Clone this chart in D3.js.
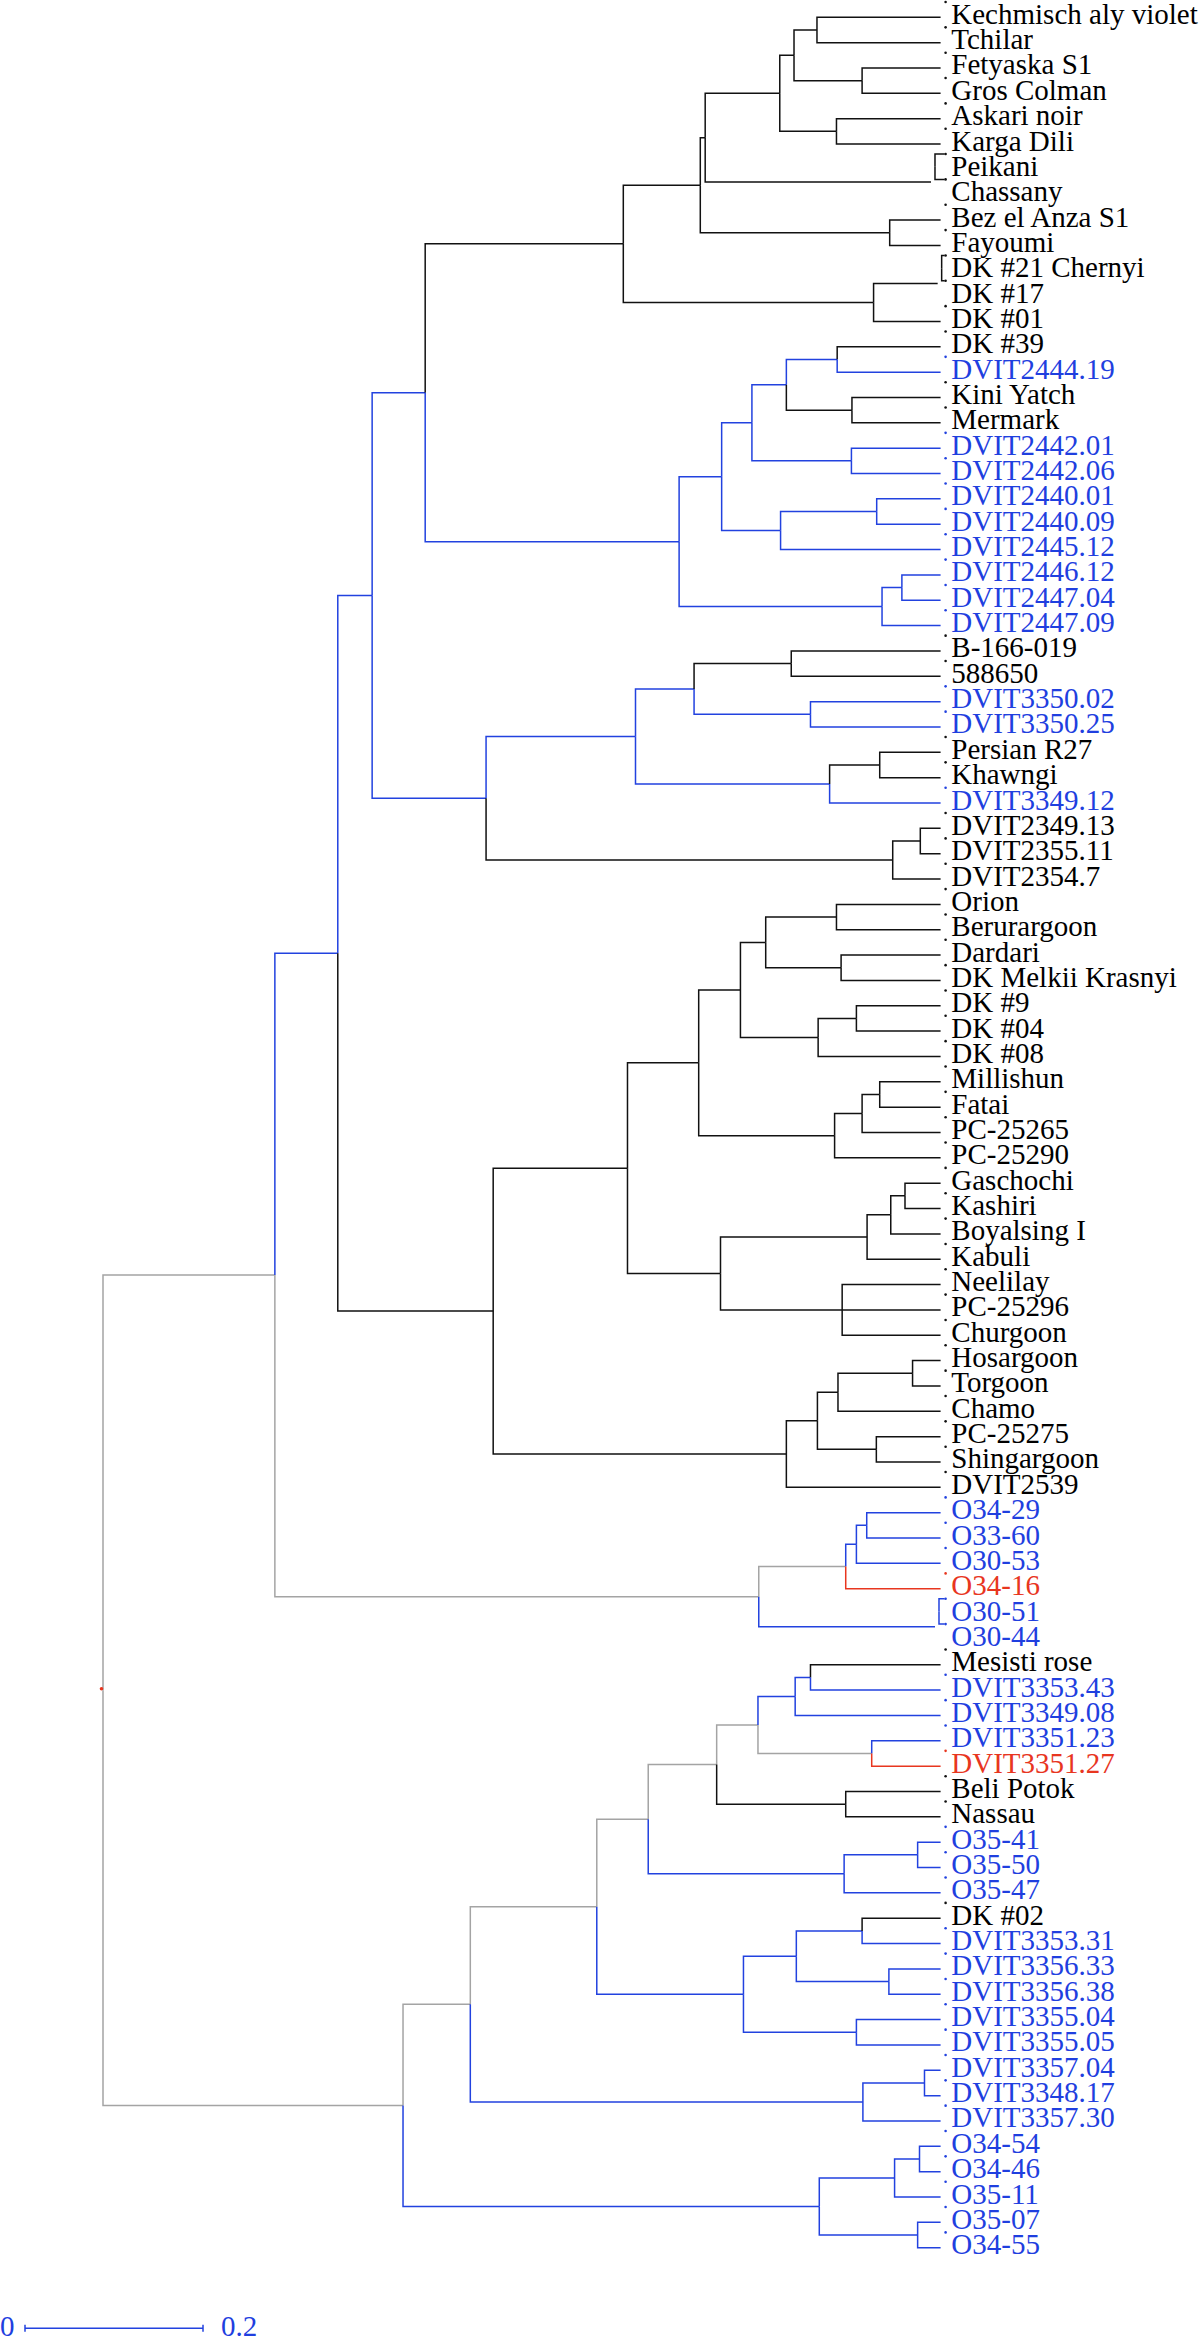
<!DOCTYPE html>
<html>
<head>
<meta charset="utf-8">
<script src="https://cdn.jsdelivr.net/npm/d3@7"></script>
<style>
  html, body { margin: 0; padding: 0; background: #ffffff; }
  svg { display: block; }
</style>
</head>
<body>
<div id="chart"></div>
<script>
// ---------------- DATA ----------------
const leafNames = [
  "Kechmisch aly violet","Tchilar","Fetyaska S1","Gros Colman","Askari noir","Karga Dili",
  "Peikani","Chassany","Bez el Anza S1","Fayoumi","DK #21 Chernyi","DK #17","DK #01",
  "DK #39","DVIT2444.19","Kini Yatch","Mermark","DVIT2442.01","DVIT2442.06","DVIT2440.01",
  "DVIT2440.09","DVIT2445.12","DVIT2446.12","DVIT2447.04","DVIT2447.09","B-166-019","588650",
  "DVIT3350.02","DVIT3350.25","Persian R27","Khawngi","DVIT3349.12","DVIT2349.13","DVIT2355.11",
  "DVIT2354.7","Orion","Berurargoon","Dardari","DK Melkii Krasnyi","DK #9","DK #04","DK #08",
  "Millishun","Fatai","PC-25265","PC-25290","Gaschochi","Kashiri","Boyalsing I","Kabuli",
  "Neelilay","PC-25296","Churgoon","Hosargoon","Torgoon","Chamo","PC-25275","Shingargoon",
  "DVIT2539","O34-29","O33-60","O30-53","O34-16","O30-51","O30-44","Mesisti rose",
  "DVIT3353.43","DVIT3349.08","DVIT3351.23","DVIT3351.27","Beli Potok","Nassau","O35-41",
  "O35-50","O35-47","DK #02","DVIT3353.31","DVIT3356.33","DVIT3356.38","DVIT3355.04",
  "DVIT3355.05","DVIT3357.04","DVIT3348.17","DVIT3357.30","O34-54","O34-46","O35-11",
  "O35-07","O34-55"
];
// leaf group: k = reference (black), b = blue group, r = red group
const leafGroups = [
  "k","k","k","k","k","k","k","k","k","k","k","k","k",
  "k","b","k","k","b","b","b","b","b","b","b","b","k","k",
  "b","b","k","k","b","k","k","k","k","k","k","k","k","k","k",
  "k","k","k","k","k","k","k","k","k","k","k","k","k","k","k","k",
  "k","b","b","b","r","b","b","k","b","b","b","r","k","k","b",
  "b","b","k","b","b","b","b","b","b","b","b","b","b","b","b","b"
];
// internal nodes: id, ordered children, height (distance from tips)
const nodeIds = ["KT","FG","KTFG","AK","KTFGAK","PC","U1","BF","U2","DK2117","DK3","C",
  "DK39","KM","G1a1","N2442","G1a","N2440","G1b","G1","N2446","G2","G","B1a",
  "NB166","N3350","H1","PK","H2","H","N23","I","B1b","B1",
  "OB","DD","OBDD","DK9","DK9b","E1a1","MF","MFP","MFPP","E1a","GK","GKB","GKBK","NPC",
  "E1b","E1","HT","HTC","PS","HTCPS","E2","E","B",
  "O2","D1a","D1","O30","D","A",
  "MD","K1","N3351","K","BN","F1a1a","O35","F1a1b","F1a1","DK02","N3356","N796","N3355",
  "F1a2","F1a","N3357","F1b","F1","O34","O34b","O35b","F2","F","root"];
const nodeChildren = [
  ["Kechmisch aly violet","Tchilar"],["Fetyaska S1","Gros Colman"],["KT","FG"],
  ["Askari noir","Karga Dili"],["KTFG","AK"],["Peikani","Chassany"],["KTFGAK","PC"],
  ["Bez el Anza S1","Fayoumi"],["U1","BF"],["DK #21 Chernyi","DK #17"],["DK2117","DK #01"],
  ["U2","DK3"],
  ["DK #39","DVIT2444.19"],["Kini Yatch","Mermark"],["DK39","KM"],["DVIT2442.01","DVIT2442.06"],
  ["G1a1","N2442"],["DVIT2440.01","DVIT2440.09"],["N2440","DVIT2445.12"],["G1a","G1b"],
  ["DVIT2446.12","DVIT2447.04"],["N2446","DVIT2447.09"],["G1","G2"],["C","G"],
  ["B-166-019","588650"],["DVIT3350.02","DVIT3350.25"],["NB166","N3350"],
  ["Persian R27","Khawngi"],["PK","DVIT3349.12"],["H1","H2"],
  ["DVIT2349.13","DVIT2355.11"],["N23","DVIT2354.7"],["H","I"],["B1a","B1b"],
  ["Orion","Berurargoon"],["Dardari","DK Melkii Krasnyi"],["OB","DD"],["DK #9","DK #04"],
  ["DK9","DK #08"],["OBDD","DK9b"],["Millishun","Fatai"],["MF","PC-25265"],["MFP","PC-25290"],
  ["E1a1","MFPP"],["Gaschochi","Kashiri"],["GK","Boyalsing I"],["GKB","Kabuli"],
  ["Neelilay","PC-25296","Churgoon"],["GKBK","NPC"],["E1a","E1b"],
  ["Hosargoon","Torgoon"],["HT","Chamo"],["PC-25275","Shingargoon"],["HTC","PS"],
  ["HTCPS","DVIT2539"],["E1","E2"],["B1","E"],
  ["O34-29","O33-60"],["O2","O30-53"],["D1a","O34-16"],["O30-51","O30-44"],["D1","O30"],["B","D"],
  ["Mesisti rose","DVIT3353.43"],["MD","DVIT3349.08"],["DVIT3351.23","DVIT3351.27"],["K1","N3351"],
  ["Beli Potok","Nassau"],["K","BN"],["O35-41","O35-50"],["O35","O35-47"],["F1a1a","F1a1b"],
  ["DK #02","DVIT3353.31"],["DVIT3356.33","DVIT3356.38"],["DK02","N3356"],
  ["DVIT3355.04","DVIT3355.05"],["N796","N3355"],["F1a1","F1a2"],
  ["DVIT3357.04","DVIT3348.17"],["N3357","DVIT3357.30"],["F1a","F1b"],
  ["O34-54","O34-46"],["O34","O35-11"],["O35-07","O34-55"],["O34b","O35b"],["F1","F2"],
  ["A","F"]
];
const nodeHeights = [
  0.1389,0.0882,0.1647,0.1170,0.1807,0.0108,0.2645,0.0572,0.2700,0.0033,0.0753,0.3565,
  0.1162,0.0996,0.1733,0.1002,0.2120,0.0718,0.1798,0.2460,0.0435,0.0658,0.2938,0.5791,
  0.1678,0.1462,0.2770,0.0684,0.1247,0.3428,0.0228,0.0538,0.5107,0.6387,
  0.1170,0.1118,0.1965,0.0946,0.1376,0.2249,0.0684,0.0882,0.1191,0.2718,0.0400,0.0560,0.0826,0.1106,
  0.2473,0.3518,0.0315,0.1153,0.0722,0.1384,0.1733,0.5027,0.6773,
  0.0830,0.0946,0.1066,0.0063,0.2043,0.7480,
  0.1462,0.1634,0.0774,0.2052,0.1066,0.2516,0.0258,0.1084,0.3285,0.0882,0.0581,0.1621,0.0946,
  0.2215,0.3863,0.0181,0.0873,0.5284,0.0237,0.0517,0.0258,0.1363,0.6040,0.9411
];
const scaleBarValue = 0.2;
const scaleBarLabels = ["0", "0.2"];

// ---------------- STYLE ----------------
const W = 1200, H = 2342;
const COLORS = { k: "#111111", b: "#2242df", r: "#e8361f", g: "#a4a4a4" };
const TEXT_COLORS = { k: "#000000", b: "#1f3fdf", r: "#e8361f" };
const FONT = "'Liberation Serif', 'Times New Roman', Times, serif";

// ---------------- BUILD TREE ----------------
const leafGroupOf = new Map(leafNames.map((n, i) => [n, leafGroups[i]]));
const nodeIndex = new Map(nodeIds.map((id, i) => [id, i]));
function build(name) {
  if (nodeIndex.has(name)) {
    const i = nodeIndex.get(name);
    return { name, height: nodeHeights[i], children: nodeChildren[i].map(build) };
  }
  return { name, height: 0, group: leafGroupOf.get(name) };
}
const root = d3.hierarchy(build("root"));

const x = d3.scaleLinear().domain([0.9411, 0]).range([103, 940.6]);
const y = d3.scalePoint().domain(leafNames).range([17.3, 2247.7]);

root.eachAfter(d => {
  d.px = x(d.data.height);
  if (!d.children) {
    d.py = y(d.data.name);
    d.cls = d.data.group;
  } else {
    d.py = (d.children[0].py + d.children[d.children.length - 1].py) / 2;
    const s = new Set(d.children.map(c => c.cls));
    if (s.size === 1) d.cls = [...s][0];
    else if (s.has("r") || s.has("g")) d.cls = "g";
    else d.cls = "b";
  }
});

const svg = d3.select("#chart").append("svg")
  .attr("width", W).attr("height", H)
  .attr("viewBox", `0 0 ${W} ${H}`);
svg.append("rect").attr("width", W).attr("height", H).attr("fill", "#fff");

const isTiny = d => d.children && d.data.height < 0.012;
const links = root.links();
const elbow = l => `M${l.source.px},${l.source.py}V${l.target.py}H${l.target.px}`;

// main links
svg.append("g")
  .attr("fill", "none").attr("stroke-width", 1.5)
  .selectAll("path")
  .data(links.filter(l => !isTiny(l.source)))
  .join("path")
  .attr("d", elbow)
  .attr("stroke", l => COLORS[l.target.cls]);

// tip marker layer (drawn slightly offset, as in the original)
const tipLayer = svg.append("g").attr("transform", "translate(4,-15.3)");
tipLayer.append("g")
  .attr("fill", "none").attr("stroke-width", 1.5)
  .selectAll("path")
  .data(links.filter(l => isTiny(l.source)))
  .join("path")
  .attr("d", elbow)
  .attr("stroke", l => COLORS[l.target.cls]);
tipLayer.append("g")
  .selectAll("circle")
  .data(root.leaves())
  .join("circle")
  .attr("cx", d => d.px + 1)
  .attr("cy", d => d.py)
  .attr("r", 1.3)
  .attr("fill", d => COLORS[d.cls]);

// root marker
svg.append("circle")
  .attr("cx", root.px - 1.5).attr("cy", root.py - 1.5)
  .attr("r", 1.8).attr("fill", COLORS.r);

// leaf labels
svg.append("g")
  .attr("font-family", FONT).attr("font-size", 29)
  .selectAll("text")
  .data(root.leaves())
  .join("text")
  .attr("x", d => d.px + 10.7)
  .attr("y", d => d.py + 6.5)
  .attr("fill", d => TEXT_COLORS[d.cls])
  .text(d => d.data.name);

// scale bar
const barX0 = 25, barY = 2328.3;
const barLen = x(0) - x(scaleBarValue);
const bar = svg.append("g").attr("stroke", COLORS.b).attr("stroke-width", 1.5);
bar.append("line").attr("x1", barX0).attr("x2", barX0 + barLen).attr("y1", barY).attr("y2", barY);
bar.append("line").attr("x1", barX0).attr("x2", barX0).attr("y1", barY - 3.5).attr("y2", barY + 3.5);
bar.append("line").attr("x1", barX0 + barLen).attr("x2", barX0 + barLen).attr("y1", barY - 3.5).attr("y2", barY + 3.5);
svg.append("text").attr("x", 0).attr("y", 2335.5)
  .attr("font-family", FONT).attr("font-size", 29).attr("fill", TEXT_COLORS.b)
  .text(scaleBarLabels[0]);
svg.append("text").attr("x", barX0 + barLen + 18).attr("y", 2335.5)
  .attr("font-family", FONT).attr("font-size", 29).attr("fill", TEXT_COLORS.b)
  .text(scaleBarLabels[1]);
</script>
</body>
</html>
